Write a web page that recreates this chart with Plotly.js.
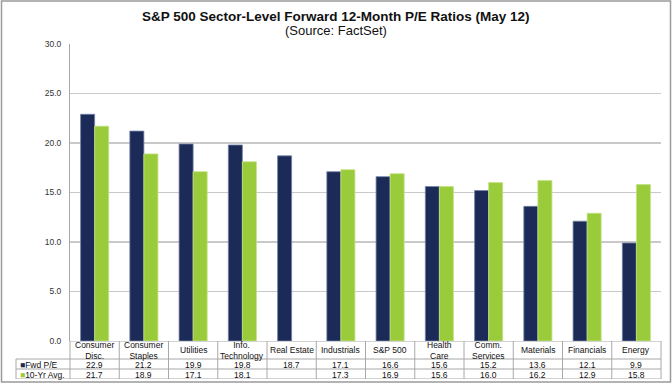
<!DOCTYPE html>
<html>
<head>
<meta charset="utf-8">
<script src="https://cdn.plot.ly/plotly-3.0.1.min.js"></script>
<style>
  html, body { margin: 0; padding: 0; background: #fff; }
  #chart { width: 672px; height: 384px; }
</style>
</head>
<body>
<div id="chart"></div>
<script>
// ---- data ----
const categories = ["Consumer Disc.", "Consumer Staples", "Utilities", "Info. Technology", "Real Estate",
  "Industrials", "S&P 500", "Health Care", "Comm. Services", "Materials", "Financials", "Energy"];
const headerLabels = ["Consumer<br>Disc.", "Consumer<br>Staples", "Utilities", "Info.<br>Technology", "Real Estate",
  "Industrials", "S&P 500", "Health<br>Care", "Comm.<br>Services", "Materials", "Financials", "Energy"];
const fwdPE = [22.9, 21.2, 19.9, 19.8, 18.7, 17.1, 16.6, 15.6, 15.2, 13.6, 12.1, 9.9];
const avg10 = [21.7, 18.9, 17.1, 18.1, null, 17.3, 16.9, 15.6, 16.0, 16.2, 12.9, 15.8];
const seriesNames = ["Fwd P/E", "10-Yr Avg."];
const yTicks = [0, 5, 10, 15, 20, 25, 30];
const titleText = "S&P 500 Sector-Level Forward 12-Month P/E Ratios (May 12)";
const subtitleText = "(Source: FactSet)";

// ---- styles ----
const navy = "#1b2a57";
const green = "#9acb3a";
const font = "Liberation Sans, Arial, sans-serif";
const lineGrey = "#a8a8a8";

const W = 672, H = 384;
const M = {l: 70, r: 11, t: 44, b: 5};
const plotW = W - M.l - M.r, plotH = H - M.t - M.b;
const tableH = 38;                     // table height in px
const rowEdges = [0, 18, 28, 38];      // header / row1 / row2 boundaries (px units on y2)
const yDomBottom = tableH / plotH;
const px2paperX = px => (px - M.l) / plotW;
const px2paperY = px => (H - M.b - px) / plotH;
const n = categories.length;

const traces = [
  {type: "bar", x: categories, y: fwdPE, name: seriesNames[0],
   marker: {color: navy, line: {color: "#7483a8", width: 0.8}}, hoverinfo: "y"},
  {type: "bar", x: categories, y: avg10, name: seriesNames[1],
   marker: {color: green, line: {color: "#c3e283", width: 0.8}}, hoverinfo: "y"}
];

const shapes = [];
const annotations = [];
const legX = px2paperX(16);

// horizontal table lines
shapes.push({type: "line", xref: "paper", yref: "y2", x0: 0, x1: 1, y0: rowEdges[0], y1: rowEdges[0],
  line: {color: lineGrey, width: 1}});
for (let r = 1; r < rowEdges.length; r++) {
  shapes.push({type: "line", xref: "paper", yref: "y2", x0: legX, x1: 1, y0: rowEdges[r], y1: rowEdges[r],
    line: {color: lineGrey, width: 1}});
}
// vertical table lines
for (let i = 0; i <= n; i++) {
  shapes.push({type: "line", xref: "paper", yref: "y2", x0: i / n, x1: i / n, y0: rowEdges[0], y1: rowEdges[3],
    line: {color: lineGrey, width: 1}});
}
shapes.push({type: "line", xref: "paper", yref: "y2", x0: legX, x1: legX, y0: rowEdges[1], y1: rowEdges[3],
  line: {color: lineGrey, width: 1}});

// outer frame
shapes.push({type: "rect", xref: "paper", yref: "paper",
  x0: px2paperX(1.5), x1: px2paperX(670.5), y0: px2paperY(382), y1: px2paperY(1),
  line: {color: "#9a9a9a", width: 1.5}, fillcolor: "rgba(0,0,0,0)", layer: "below"});

// title lines
const centerX = px2paperX(W / 2);
annotations.push({xref: "paper", yref: "paper", x: centerX, y: px2paperY(16), text: "<b>" + titleText + "</b>",
  showarrow: false, font: {family: font, size: 13.5, color: "#111"}, xanchor: "center", yanchor: "middle"});
annotations.push({xref: "paper", yref: "paper", x: centerX, y: px2paperY(30), text: subtitleText,
  showarrow: false, font: {family: font, size: 13, color: "#111"}, xanchor: "center", yanchor: "middle"});

// header + value cells
const rows = [fwdPE, avg10];
categories.forEach((c, i) => {
  annotations.push({xref: "x", yref: "y2", x: c, y: (rowEdges[0] + rowEdges[1]) / 2,
    text: headerLabels[i], showarrow: false, font: {family: font, size: 8.5, color: "#111"},
    xanchor: "center", yanchor: "middle"});
  rows.forEach((vals, r) => {
    annotations.push({xref: "x", yref: "y2", x: c, y: (rowEdges[r + 1] + rowEdges[r + 2]) / 2 + 0.5,
      text: vals[i] == null ? "" : vals[i].toFixed(1), showarrow: false,
      font: {family: font, size: 8.5, color: "#111"}, xanchor: "center", yanchor: "middle"});
  });
});
// legend cells
const legColors = [navy, green];
seriesNames.forEach((s, r) => {
  annotations.push({xref: "paper", yref: "y2", x: px2paperX(18), y: (rowEdges[r + 1] + rowEdges[r + 2]) / 2 + 0.5,
    text: '<span style="color:' + legColors[r] + '">■</span>' + s, showarrow: false,
    font: {family: font, size: 8.5, color: "#111"}, xanchor: "left", yanchor: "middle"});
});

const layout = {
  width: W, height: H,
  margin: M,
  paper_bgcolor: "#fff", plot_bgcolor: "#fff",
  font: {family: font, size: 8.5, color: "#333"},
  showlegend: false,
  barmode: "group", bargap: 0.43, bargroupgap: 0,
  xaxis: {type: "category", range: [-0.5, n - 0.5], showticklabels: false, showgrid: false,
    zeroline: false, showline: false, ticks: "", fixedrange: true},
  yaxis: {domain: [yDomBottom, 1], range: [0, 30], tickvals: yTicks,
    ticktext: yTicks.map(v => v.toFixed(1)), showgrid: true, gridcolor: "#c9c9c9", gridwidth: 1.5,
    zeroline: false, showline: true, linecolor: "#a8a8a8", linewidth: 1, ticks: "",
    ticklabelstandoff: 6, tickfont: {family: font, size: 8.5, color: "#333"}, fixedrange: true},
  yaxis2: {domain: [0, yDomBottom], range: [tableH, 0], visible: false, anchor: "x", fixedrange: true},
  shapes: shapes,
  annotations: annotations
};

Plotly.newPlot("chart", traces, layout, {displayModeBar: false, staticPlot: true});
</script>
</body>
</html>
